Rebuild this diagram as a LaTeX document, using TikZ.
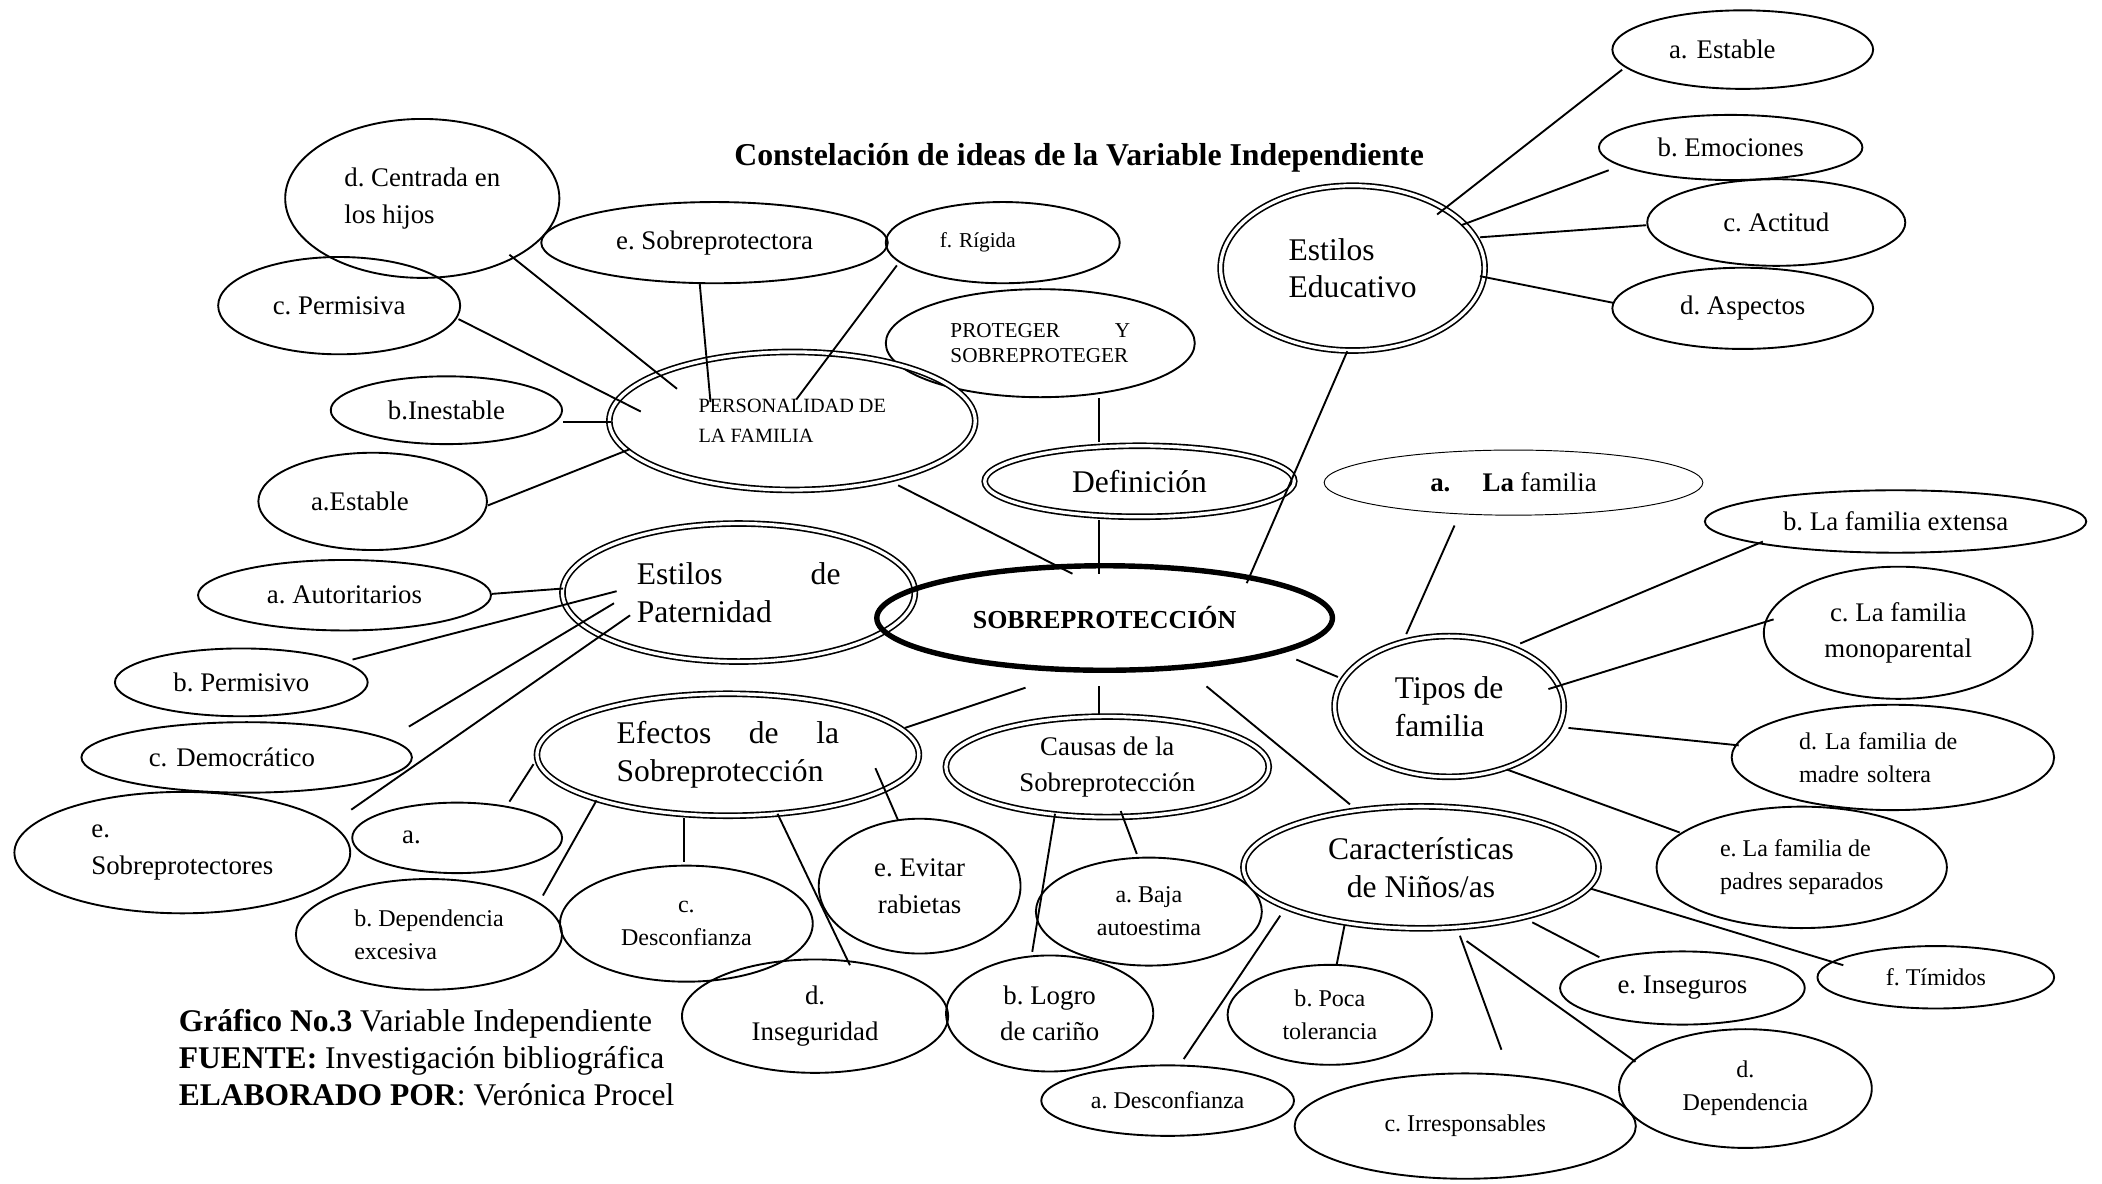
\documentclass[tikz,border=0pt]{standalone}
\usepackage{fontspec}
\setmainfont{Liberation Serif}
\usetikzlibrary{shapes.geometric,calc}
\frenchspacing
\newcommand\myfB{\fontsize{13.4pt}{16pt}\selectfont}
\newcommand\myfN{\fontsize{11.4pt}{15.4pt}\selectfont}
\newcommand\myfS{\fontsize{10.2pt}{14pt}\selectfont}
\newcommand\myfT{\fontsize{9pt}{11pt}\selectfont}
\newcommand\myfPr{\fontsize{9pt}{10.8pt}\selectfont}
\newcommand\myfP{\fontsize{8.6pt}{12.5pt}\selectfont}
\tikzset{
  base/.style={ellipse, draw, inner sep=0pt, align=center, font=\myfN},
  el/.style 2 args={base, line width=0.8pt, minimum width={(#1-0.7)*0.04cm}, minimum height={(#2-0.7)*0.04cm}},
  dl/.style 2 args={base, line width=0.7pt, double, double distance=1.4pt, minimum width={(#1-2.5)*0.04cm}, minimum height={(#2-2.5)*0.04cm}},
  ctr/.style 2 args={base, line width=2.3pt, minimum width={(#1-2)*0.04cm}, minimum height={(#2-2)*0.04cm}, font=\fontsize{11pt}{13pt}\selectfont\bfseries},
  ln/.style={line width=0.8pt}
}
\begin{document}
\begin{tikzpicture}[x=0.02cm,y=-0.02cm]
\fill[white] (0,0) rectangle (1568,883);
\useasboundingbox (0,0) rectangle (1568,883);

\node[font=\fontsize{13.5pt}{16pt}\selectfont\bfseries] (title) at (805,118) {Constelación de ideas de la Variable Independiente};

% Personalidad cluster
\node[el={103}{60}, align=left] (cen) at (315,148) {d. Centrada en\\los hijos};
\node[el={130}{31}] (sob) at (533,181) {e. Sobreprotectora};
\node[el={88}{31}, font=\myfT, text width=1.88cm, align=left] (rig) at (748,181) {f. Rígida};
\node[el={91}{37}] (per) at (253,228) {c. Permisiva};
\node[el={116}{41}, font=\myfPr, text width=2.68cm, align=left] (prot) at (776,256) {PROTEGER \hfill Y\\SOBREPROTEGER};
\node[el={87}{26}] (ine) at (333,306) {b.Inestable};
\node[dl={139}{54}, font=\myfP, align=left] (pf) at (591,314) {PERSONALIDAD DE\\LA FAMILIA};
\node[el={86}{37}, text width=1.84cm, align=left] (aes) at (278,374) {a.Estable};
\node[dl={118}{29}, font=\myfB] (defi) at (850,359) {Definición};

% Estilos de paternidad
\node[dl={134}{54}, font=\myfB, text width=3.04cm, align=left] (ep) at (551,442) {Estilos \hfill de\\Paternidad};
\node[el={110}{27}] (aut) at (257,444) {a. Autoritarios};
\node[el={95}{26}] (pmv) at (180,509) {b. Permisivo};
\node[el={124}{27}, text width=2.92cm, align=left] (dem) at (184,565) {c. Democrático};
\node[el={126}{46}, align=left] (esp) at (136,636) {e.\\Sobreprotectores};

% center
\node[ctr={172}{41}] (S) at (824,461) {SOBREPROTECCIÓN};

% Efectos
\node[dl={145}{48}, font=\myfB, text width=3.32cm, align=left] (efe) at (543,563) {Efectos \hfill de \hfill la\\Sobreprotección};
\node[el={79}{27}, text width=1.64cm, align=left] (ea) at (341,625) {a.};
\node[el={100}{42}, font=\myfS, align=left] (dep) at (320,697) {b. Dependencia\\excesiva};
\node[el={95}{44}, font=\myfS] (des) at (512,689) {c.\\Desconfianza};
\node[el={76}{51}] (evi) at (686,661) {e. Evitar\\rabietas};
\node[el={100}{43}] (ins) at (608,758) {d.\\Inseguridad};

% Causas
\node[dl={123}{40}] (cau) at (826,572) {Causas de la\\Sobreprotección};
\node[el={85}{41}, font=\myfS] (baj) at (857,680) {a. Baja\\autoestima};
\node[el={78}{44}] (log) at (783,756) {b. Logro\\de cariño};

% Caracteristicas
\node[dl={135}{48}, font=\myfB] (car) at (1060,647) {Características\\de Niños/as};
\node[el={77}{38}, font=\myfS] (poc) at (992,757) {b. Poca\\tolerancia};
\node[el={95}{27}, font=\myfS] (ades) at (871,821) {a. Desconfianza};
\node[el={128}{40}, font=\myfS] (irr) at (1093,840) {c. Irresponsables};
\node[el={95}{45}, font=\myfS] (ddep) at (1302,812) {d.\\Dependencia};
\node[el={92}{28}] (eins) at (1255,737) {e. Inseguros};
\node[el={89}{24}, font=\myfS] (tim) at (1444,729) {f. Tímidos};

% Tipos de familia
\node[dl={88}{55}, font=\myfB, align=left] (tip) at (1081,527) {Tipos de\\familia};
\node[el={142}{25}, line width=0.4pt] (fam) at (1129,360) {\textbf{a.}\hspace{1.2em}\textbf{La} familia};
\node[el={143}{24}] (fext) at (1414,389) {b. La familia extensa};
\node[el={101}{50}] (fmon) at (1416,472) {c. La familia\\monoparental};
\node[el={121}{40}, font=\myfS, text width=2.8cm, align=left] (fmad) at (1412,565) {d. La familia de\\madre soltera};
\node[el={109}{46}, font=\myfS, align=left] (fsep) at (1344,647) {e. La familia de\\padres separados};

% Estilos educativo
\node[dl={101}{64}, font=\myfB, align=left] (edu) at (1009,200) {Estilos\\Educativo};
\node[el={98}{30}, text width=2.2cm, align=left] (tes) at (1300,37) {a. Estable};
\node[el={99}{25}] (emo) at (1291,110) {b. Emociones};
\node[el={97}{33}] (act) at (1325,166) {c. Actitud};
\node[el={98}{31}] (asp) at (1300,230) {d. Aspectos};

% footer
\node[anchor=west, inner sep=0pt, align=left, font=\fontsize{13.4pt}{15.6pt}\selectfont] (foot) at (133,789) {\textbf{Gráfico No.3} Variable Independiente\\\textbf{FUENTE:} Investigación bibliográfica\\\textbf{ELABORADO POR}: Verónica Procel};

% connectors
\draw[ln] ($(cen)+(65,42)$) -- ($(pf)+(-86,-24)$);
\draw[ln] ($(sob)+(-11,31)$) -- ($(pf)+(-61,-14)$);
\draw[ln] ($(rig)+(-79,17)$) -- ($(pf)+(3,-16)$);
\draw[ln] ($(per)+(89,10)$) -- ($(pf)+(-113,-7)$);
\draw[ln] ($(ine)+(87,9)$) -- ($(pf)+(-135,1)$);
\draw[ln] ($(aes)+(86,3)$) -- ($(pf)+(-121,21)$);
\draw[ln] ($(pf)+(79,48)$) -- ($(S)+(-24,-33)$);
\draw[ln] ($(prot)+(44,41)$) -- ($(defi)+(-30,-29)$);
\draw[ln] ($(defi)+(-30,29)$) -- ($(S)+(-4,-33)$);
\draw[ln] ($(edu)+(-4,62)$) -- ($(S)+(106,-26)$);
\draw[ln] ($(tes)+(-90,15)$) -- ($(edu)+(63,-40)$);
\draw[ln] ($(emo)+(-91,17)$) -- ($(edu)+(81,-32)$);
\draw[ln] ($(act)+(-97,2)$) -- ($(edu)+(95,-23)$);
\draw[ln] ($(asp)+(-96,-4)$) -- ($(edu)+(95,6)$);
\draw[ln] ($(aut)+(110,-1)$) -- ($(ep)+(-131,-3)$);
\draw[ln] ($(pmv)+(83,-17)$) -- ($(ep)+(-91,-1)$);
\draw[ln] ($(dem)+(121,-23)$) -- ($(ep)+(-93,8)$);
\draw[ln] ($(esp)+(126,-32)$) -- ($(ep)+(-81,17)$);
\draw[ln] ($(S)+(-59,52)$) -- ($(efe)+(132,-20)$);
\draw[ln] ($(S)+(-4,51)$) -- ($(cau)+(-6,-39)$);
\draw[ln] ($(S)+(76,51)$) -- ($(car)+(-53,-47)$);
\draw[ln] ($(S)+(143,31)$) -- ($(tip)+(-83,-22)$);
\draw[ln] ($(tip)+(-32,-54)$) -- ($(fam)+(-44,32)$);
\draw[ln] ($(tip)+(53,-47)$) -- ($(fext)+(-99,15)$);
\draw[ln] ($(tip)+(74,-13)$) -- ($(fmon)+(-93,-10)$);
\draw[ln] ($(tip)+(89,16)$) -- ($(fmad)+(-115,-9)$);
\draw[ln] ($(tip)+(43,47)$) -- ($(fsep)+(-91,-26)$);
\draw[ln] ($(efe)+(-145,7)$) -- ($(ea)+(39,-27)$);
\draw[ln] ($(efe)+(-98,34)$) -- ($(dep)+(85,-29)$);
\draw[ln] ($(efe)+(-33,47)$) -- ($(des)+(-2,-46)$);
\draw[ln] ($(efe)+(37,44)$) -- ($(ins)+(26,-38)$);
\draw[ln] ($(efe)+(110,10)$) -- ($(evi)+(-16,-49)$);
\draw[ln] ($(cau)+(10,33)$) -- ($(baj)+(-9,-43)$);
\draw[ln] ($(cau)+(-39,35)$) -- ($(log)+(-13,-46)$);
\draw[ln] ($(car)+(-105,36)$) -- ($(ades)+(12,-31)$);
\draw[ln] ($(car)+(-57,43)$) -- ($(poc)+(5,-37)$);
\draw[ln] ($(car)+(29,51)$) -- ($(irr)+(27,-57)$);
\draw[ln] ($(car)+(34,55)$) -- ($(ddep)+(-82,-20)$);
\draw[ln] ($(car)+(83,41)$) -- ($(eins)+(-62,-23)$);
\draw[ln] ($(car)+(127,16)$) -- ($(tim)+(-69,-9)$);
\end{tikzpicture}
\end{document}
